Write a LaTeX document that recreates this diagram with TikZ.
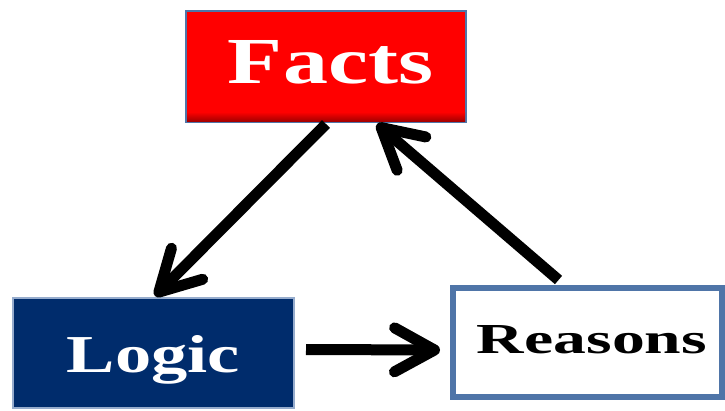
\documentclass[tikz,border=0pt]{standalone}
\usepackage{graphicx}
\usepackage{fontspec}
\setmainfont{Liberation Serif}
\usetikzlibrary{arrows.meta}
\definecolor{boxblue}{RGB}{79,117,168}
\definecolor{navyfill}{RGB}{0,44,108}
\definecolor{lightedge}{RGB}{150,172,205}
\definecolor{factred}{RGB}{255,0,0}
\tikzset{
  box/.style={rectangle, inner sep=0pt, outer sep=0pt},
  arr/.style={line width=11pt, -{Straight Barb[length=40pt, width=44pt, round]}},
  lbl/.style={anchor=base, inner sep=0pt, outer sep=0pt}
}
\begin{document}
\begin{tikzpicture}[x=1pt, y=-1pt]
\useasboundingbox (0,0) rectangle (725,410);
% boxes
\node[box, draw=boxblue, line width=2pt, fill=factred, minimum width=280pt, minimum height=111pt] (facts) at (326,66.5) {};
\shade[top color=factred, bottom color=factred!65!black] ([xshift=1pt,yshift=10pt]facts.south west) rectangle ([xshift=-1pt,yshift=1pt]facts.south east);
\node[box, draw=lightedge, line width=2pt, fill=navyfill, minimum width=281pt, minimum height=110pt] (logic) at (153.5,353) {};
\node[box, draw=boxblue, line width=6pt, fill=white, minimum width=269pt, minimum height=109pt] (reasons) at (587.5,342.5) {};
% labels
\node[lbl, text=white] (factsText) at (330.5,83) {\resizebox{205pt}{43pt}{\bfseries Facts}};
\node[lbl, text=white] (logicText) at (153.5,372) {\resizebox{173pt}{37pt}{\bfseries Logic}};
\node[lbl, text=black] (reasonsText) at (592,353) {\resizebox{230pt}{28pt}{\bfseries Reasons}};
% arrows
\draw[arr] ([yshift=-2pt]facts.south) -- ([xshift=1.5pt,yshift=2pt]logic.north);
\draw[arr] ([xshift=-29pt,yshift=8pt]reasons.north) -- ([xshift=51pt,yshift=-2pt]facts.south);
\draw[arr] ([xshift=12pt,yshift=3.5pt]logic.east) -- ([xshift=-13pt,yshift=-7.5pt]reasons.west);
\end{tikzpicture}
\end{document}
